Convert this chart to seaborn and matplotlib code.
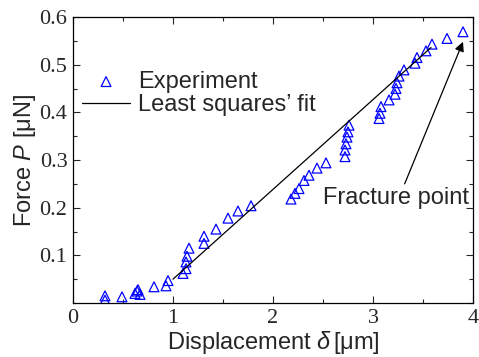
import numpy as np
import pandas as pd
import matplotlib
matplotlib.use('Agg')
import matplotlib.pyplot as plt
from matplotlib.ticker import MultipleLocator
import seaborn as sns

# experiment points
disp = [0.32, 0.32, 0.49, 0.62, 0.64, 0.65, 0.67, 0.81, 0.93, 0.95,
        1.10, 1.13, 1.13, 1.14, 1.16, 1.31, 1.31, 1.43, 1.55, 1.65, 1.78,
        2.18, 2.22, 2.26, 2.31, 2.36, 2.44, 2.53,
        2.72, 2.72, 2.73, 2.74, 2.75, 2.76,
        3.06, 3.07, 3.08, 3.16, 3.22, 3.23, 3.24, 3.26, 3.31,
        3.42, 3.44, 3.53, 3.59, 3.74, 3.90]
force = [0.015, 0.006, 0.013, 0.020, 0.025, 0.028, 0.018, 0.034, 0.036, 0.047,
         0.062, 0.072, 0.086, 0.098, 0.115, 0.125, 0.140, 0.155, 0.178, 0.193, 0.204,
         0.218, 0.230, 0.240, 0.257, 0.268, 0.283, 0.294,
         0.307, 0.321, 0.334, 0.348, 0.359, 0.373,
         0.387, 0.398, 0.412, 0.426, 0.438, 0.450, 0.462, 0.476, 0.489,
         0.503, 0.515, 0.529, 0.543, 0.555, 0.569]

fit_x = [1.00, 3.58]
fit_y = [0.050, 0.536]

df = pd.DataFrame({'d': disp, 'P': force})
fit = pd.DataFrame({'d': fit_x, 'P': fit_y})

sns.set_style('ticks')
plt.rcParams['font.family'] = ['Liberation Sans', 'DejaVu Sans']
plt.rcParams['mathtext.fontset'] = 'custom'
plt.rcParams['mathtext.it'] = 'Liberation Sans:italic'
plt.rcParams['mathtext.rm'] = 'Liberation Sans'

fig = plt.figure(figsize=(4.79, 3.57), dpi=100)
ax = fig.add_axes([73/479, 1-303/357, 400/479, 286/357])

sns.scatterplot(data=df, x='d', y='P', ax=ax, marker='^', s=50,
                facecolor='none', edgecolor='#0000ff', linewidth=0.9,
                label='Experiment')
sns.lineplot(data=fit, x='d', y='P', ax=ax, color='black', lw=0.9,
             label='Least squares\u2019 fit')

ax.set_xlim(0, 4)
ax.set_ylim(0, 0.6)
ax.xaxis.set_minor_locator(MultipleLocator(0.5))
ax.yaxis.set_minor_locator(MultipleLocator(0.05))
ax.set_yticks([0.1, 0.2, 0.3, 0.4, 0.5, 0.6])
ax.set_xticks([0, 1, 2, 3, 4])
ax.tick_params(which='both', direction='in', top=True, right=True, width=0.8)
ax.tick_params(which='major', length=5, pad=4)
ax.tick_params(which='minor', length=3)
for lab in ax.get_xticklabels() + ax.get_yticklabels():
    lab.set_fontfamily('Liberation Serif')
    lab.set_fontsize(16)
for sp in ax.spines.values():
    sp.set_linewidth(0.9)
    sp.set_color('black')

ax.set_xlabel('Displacement $\\delta\\,$[\u03bcm]', fontsize=17, labelpad=1)
ax.set_ylabel('Force $P$ [\u03bcN]', fontsize=17, labelpad=1)

ax.legend(loc='upper left', bbox_to_anchor=(0.0, 0.845), frameon=False,
          fontsize=17, handlelength=2.0, handletextpad=0.35, labelspacing=0.05,
          borderaxespad=0)

ax.annotate('Fracture point', xy=(3.90, 0.548), xytext=(2.50, 0.22),
            fontsize=17, va='center', ha='left',
            arrowprops=dict(arrowstyle='-|>', color='black', lw=0.9,
                            mutation_scale=14, shrinkA=0, shrinkB=0,
                            relpos=(0.55, 1.0)))

fig.savefig('out.png', dpi=100)
